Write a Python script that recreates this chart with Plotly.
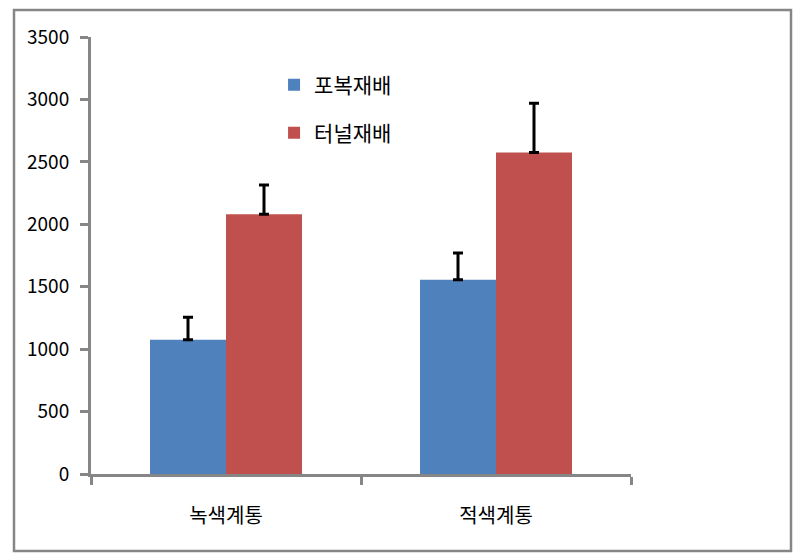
import plotly.graph_objects as go

categories = ["녹색계통", "적색계통"]
series_names = ["포복재배", "터널재배"]
pobok_values = [1075, 1555]
pobok_errors = [180, 215]
tunnel_values = [2080, 2575]
tunnel_errors = [235, 395]
y_ticks = [0, 500, 1000, 1500, 2000, 2500, 3000, 3500]

FONT = "Noto Sans CJK KR"
GRAY = "#868686"

fig = go.Figure()
fig.add_trace(go.Bar(
    x=categories, y=pobok_values, name=series_names[0],
    marker=dict(color="#4F81BD", line=dict(width=0)),
    error_y=dict(type="data", array=pobok_errors, arrayminus=[0, 0], symmetric=False,
                 color="black", thickness=3, width=5),
    legend="legend", showlegend=True,
))
fig.add_trace(go.Bar(
    x=categories, y=tunnel_values, name=series_names[1],
    marker=dict(color="#C0504D", line=dict(width=0)),
    error_y=dict(type="data", array=tunnel_errors, arrayminus=[0, 0], symmetric=False,
                 color="black", thickness=3, width=5),
    legend="legend2", showlegend=True,
))

fig.update_layout(
    width=802, height=560,
    showlegend=True,
    margin=dict(l=91, r=171, t=37, b=86),
    paper_bgcolor="white", plot_bgcolor="white",
    barmode="group", bargap=0.437, bargroupgap=0,
    font=dict(family=FONT, color="black"),
    legend=dict(x=0.339, y=0.890, xanchor="left", yanchor="middle",
                font=dict(size=21, family=FONT), bgcolor="rgba(0,0,0,0)"),
    legend2=dict(x=0.339, y=0.780, xanchor="left", yanchor="middle",
                 font=dict(size=21, family=FONT), bgcolor="rgba(0,0,0,0)"),
    xaxis=dict(
        type="category", range=[-0.5, 1.5], tickson="boundaries",
        showline=True, linecolor=GRAY, linewidth=3,
        ticks="outside", ticklen=8, tickwidth=3, tickcolor=GRAY,
        tickfont=dict(size=20, family=FONT, color="black"),
        ticklabelstandoff=22, showgrid=False, zeroline=False,
    ),
    yaxis=dict(
        range=[0, 3500], tickvals=y_ticks, ticktext=[str(v) for v in y_ticks],
        showline=True, linecolor=GRAY, linewidth=3,
        ticks="outside", ticklen=8, tickwidth=3, tickcolor=GRAY,
        tickfont=dict(size=19, family=FONT, color="black"),
        ticklabelstandoff=7, showgrid=False, zeroline=False,
    ),
    shapes=[dict(type="rect", xref="paper", yref="paper",
                 x0=-0.1426, x1=1.2963, y0=-0.1762, y1=1.0618,
                 line=dict(color=GRAY, width=2.5), fillcolor="rgba(0,0,0,0)", layer="below")],
)

fig.write_html("out.html")
